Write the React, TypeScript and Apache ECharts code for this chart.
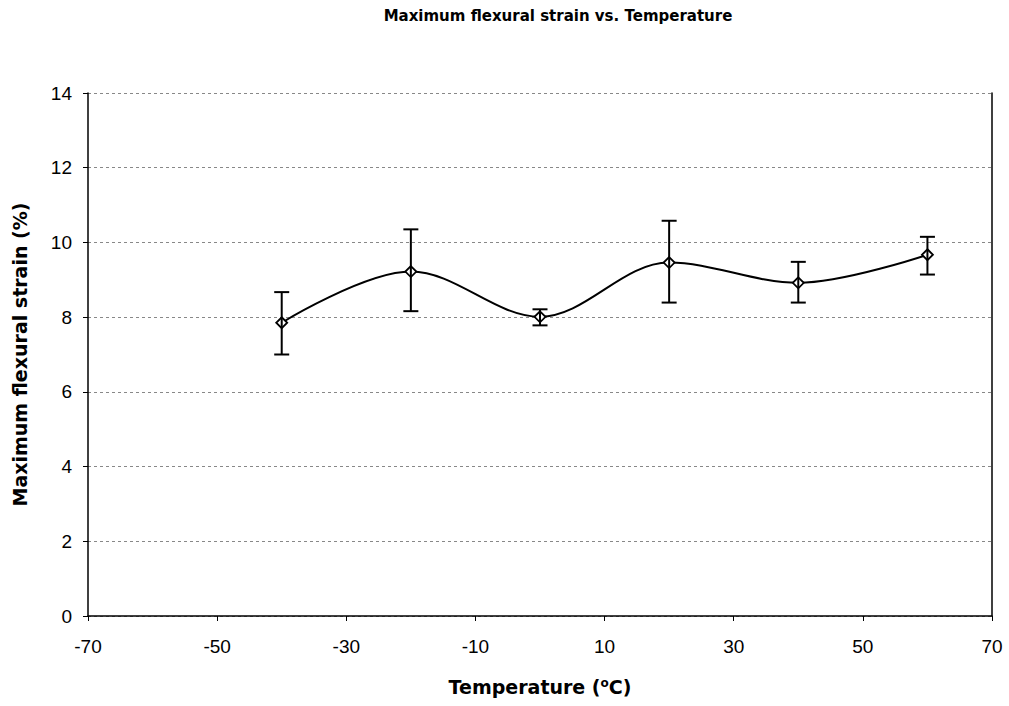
import React, { useEffect, useRef } from "react";
import * as echarts from "echarts";

const temps = [-40, -20, 0, 20, 40, 60];
const strain = [7.85, 9.22, 8.01, 9.46, 8.92, 9.67];
const errLow = [7.0, 8.16, 7.78, 8.39, 8.39, 9.14];
const errHigh = [8.67, 10.35, 8.21, 10.58, 9.48, 10.15];

const FONT = "Liberation Sans, Arial, sans-serif";
const BOLDFONT = "DejaVu Sans, sans-serif";

export default function App() {
  const ref = useRef<HTMLDivElement>(null);
  useEffect(() => {
    if (!ref.current) return;
    const chart = echarts.init(ref.current, null, { renderer: "svg" });
    const lineData = temps.map((t, i) => [t, strain[i]]);
    const errData = temps.map((t, i) => [t, errLow[i], errHigh[i]]);
    chart.setOption({
      animation: false,
      backgroundColor: "#fff",
      title: {
        text: "Maximum flexural strain vs. Temperature",
        left: 553,
        textAlign: "center",
        top: 3,
        textStyle: { fontFamily: BOLDFONT, fontSize: 15, fontWeight: "bold", color: "#000" },
      },
      grid: { left: 88, right: 17, top: 93, bottom: 90, containLabel: false },
      xAxis: {
        type: "value",
        min: -70,
        max: 70,
        interval: 20,
        name: "Temperature ({s|o}C)",
        nameLocation: "middle",
        nameGap: 61,
        nameTextStyle: {
          fontFamily: BOLDFONT,
          fontSize: 19,
          fontWeight: "bold",
          color: "#000",
          rich: { s: { fontFamily: BOLDFONT, fontSize: 12, fontWeight: "bold", color: "#000", verticalAlign: "top", padding: [0, 0, 8, 0] } },
        },
        axisLine: { show: true, onZero: false, lineStyle: { color: "#000", width: 1.5 } },
        axisTick: { show: true, length: 5, lineStyle: { color: "#000" } },
        axisLabel: { fontFamily: FONT, fontSize: 19, color: "#000", margin: 21 },
        splitLine: { show: false },
      },
      yAxis: [
        {
          type: "value",
          min: 0,
          max: 14,
          interval: 2,
          name: "Maximum flexural strain (%)",
          nameLocation: "middle",
          nameGap: 59,
          nameTextStyle: { fontFamily: BOLDFONT, fontSize: 19, fontWeight: "bold", color: "#000" },
          axisLine: { show: true, onZero: false, lineStyle: { color: "#000", width: 1.5 } },
          axisTick: { show: true, length: 5, lineStyle: { color: "#000" } },
          axisLabel: { fontFamily: FONT, fontSize: 19, color: "#000", margin: 16 },
          splitLine: { show: true, lineStyle: { color: "#888", width: 1, type: [3, 3] } },
        },
        {
          type: "value",
          min: 0,
          max: 14,
          interval: 2,
          position: "right",
          axisLine: { show: true, onZero: false, lineStyle: { color: "#000", width: 1.5 } },
          axisTick: { show: false },
          axisLabel: { show: false },
          splitLine: { show: false },
        },
      ],
      series: [
        {
          type: "line",
          data: lineData,
          smooth: 0.35,
          symbol: "diamond",
          symbolSize: 11,
          showSymbol: true,
          lineStyle: { color: "#000", width: 2 },
          itemStyle: { color: "#fff", borderColor: "#000", borderWidth: 1.8 },
          z: 3,
        },
        {
          type: "custom",
          data: errData,
          z: 4,
          renderItem: (params: any, api: any) => {
            const x = api.value(0);
            const lo = api.value(1);
            const hi = api.value(2);
            const p1 = api.coord([x, hi]);
            const p2 = api.coord([x, lo]);
            const hw = 7.5;
            const st = { stroke: "#000", lineWidth: 2 };
            return {
              type: "group",
              children: [
                { type: "line", shape: { x1: p1[0], y1: p1[1], x2: p2[0], y2: p2[1] }, style: st },
                { type: "line", shape: { x1: p1[0] - hw, y1: p1[1], x2: p1[0] + hw, y2: p1[1] }, style: st },
                { type: "line", shape: { x1: p2[0] - hw, y1: p2[1], x2: p2[0] + hw, y2: p2[1] }, style: st },
              ],
            };
          },
        },
      ],
    });
    return () => chart.dispose();
  }, []);
  return <div ref={ref} style={{ width: 1009, height: 706, position: "fixed", left: 0, top: 0 }} />;
}
